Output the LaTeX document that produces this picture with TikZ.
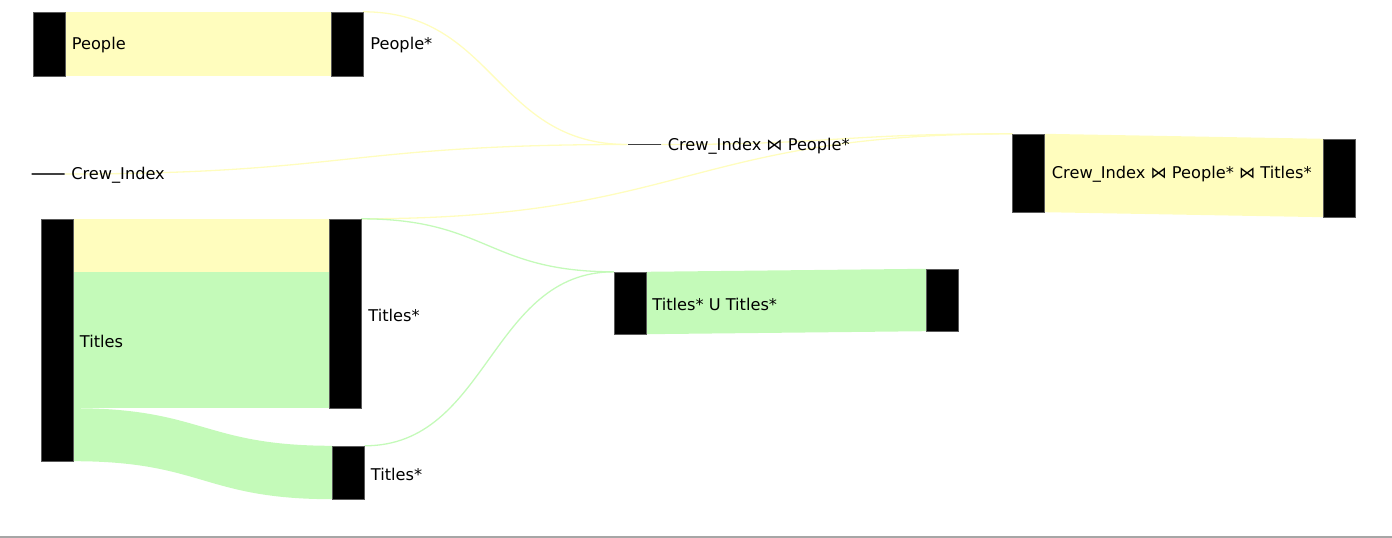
\documentclass[tikz,border=0pt]{standalone}
\usepackage{fontspec}
\setmainfont{DejaVu Sans}
\usetikzlibrary{calc,positioning,backgrounds}
\definecolor{bandyellow}{RGB}{255,253,190}
\definecolor{bandgreen}{RGB}{196,250,185}
\tikzset{
  bar/.style={
    rectangle,
    fill=black,
    draw=black!65, thin,
    inner sep=0pt,
    minimum width=32pt},
  stub/.style={
    rectangle,
    draw=black!75, line width=1.2pt,
    inner sep=0pt,
    minimum width=33pt,
    minimum height=0pt},
  lbl/.style={
    font=\fontsize{16.2}{19}\selectfont,
    inner sep=0pt, yshift=-1.5pt},
  yband/.style={fill=bandyellow},
  gband/.style={fill=bandgreen},
  ylink/.style={draw=bandyellow, line width=1.3pt},
  glink/.style={draw=bandgreen, line width=1.3pt}
}

\begin{document}
\begin{tikzpicture}[x=1pt, y=-1pt]
  \useasboundingbox (0,0) rectangle (1392,538);

  % node bars
  \node[bar, minimum height=64pt] (peopleL) at (49.5,44) {};
  \node[bar, minimum height=64pt] (peopleR) at (347,44) {};
  \node[stub] (crew) at (48,174) {};
  \node[stub] (cip) at (644.5,144.5) {};
  \node[bar, minimum height=242pt] (titlesL) at (57.5,340) {};
  \node[bar, minimum height=189pt] (titlesA) at (345,313.5) {};
  \node[bar, minimum height=53pt] (titlesB) at (348.5,472.5) {};
  \node[bar, minimum height=62pt] (unionL) at (630,303) {};
  \node[bar, minimum height=62pt] (unionR) at (942,300) {};
  \node[bar, minimum height=78pt] (cptL) at (1028.5,173) {};
  \node[bar, minimum height=78pt] (cptR) at (1339.5,178) {};

  \begin{scope}[on background layer]
    % wide flows
    \fill[yband] (peopleL.north east) rectangle (peopleR.south west);
    \fill[yband] (titlesL.north east) rectangle ($(titlesA.north west)+(0,53)$);
    \fill[gband] ($(titlesL.north east)+(0,53)$) rectangle (titlesA.south west);
    \fill[gband] ($(titlesL.south east)+(0,-53)$) .. controls +(129,0) and +(-129,0) .. (titlesB.north west)
      -- (titlesB.south west) .. controls +(-129,0) and +(129,0) .. (titlesL.south east) -- cycle;
    \fill[gband] (unionL.north east) -- (unionR.north west) -- (unionR.south west) -- (unionL.south east) -- cycle;
    \fill[yband] (cptL.north east) -- (cptR.north west) -- (cptR.south west) -- (cptL.south east) -- cycle;

    % thin flows
    \draw[ylink] (peopleR.north east) .. controls +(132,0) and +(-132,0) .. (cip.west);
    \draw[ylink] (crew.east) .. controls +(282,0) and +(-282,0) .. (cip.west);
    \draw[ylink] (cip.east) .. controls +(175,0) and +(-175,0) .. (cptL.north west);
    \draw[ylink] (titlesA.north east) .. controls +(325,0) and +(-325,0) .. (cptL.north west);
    \draw[glink] (titlesA.north east) .. controls +(126,0) and +(-126,0) .. (unionL.north west);
    \draw[glink] (titlesB.north east) .. controls +(124,0) and +(-124,0) .. (unionL.north west);
  \end{scope}

  % labels
  \node[lbl, right=6pt of peopleL] (peopleLtxt) {People};
  \node[lbl, right=7pt of peopleR] (peopleRtxt) {People*};
  \node[lbl, right=6pt of crew] (crewtxt) {Crew\_Index};
  \node[lbl, right=6pt of cip] (ciptxt) {Crew\_Index ⋈ People*};
  \node[lbl, right=6pt of titlesL] (titlesLtxt) {Titles};
  \node[lbl, right=7pt of titlesA] (titlesAtxt) {Titles*};
  \node[lbl, right=6pt of titlesB] (titlesBtxt) {Titles*};
  \node[lbl, right=6pt of unionL] (uniontxt) {Titles* U Titles*};
  \node[lbl, right=7pt of cptL] (cpttxt) {Crew\_Index ⋈ People* ⋈ Titles*};

  % window edge
  \fill[black!35] (0,535.5) rectangle (1392,538);
\end{tikzpicture}
\end{document}
